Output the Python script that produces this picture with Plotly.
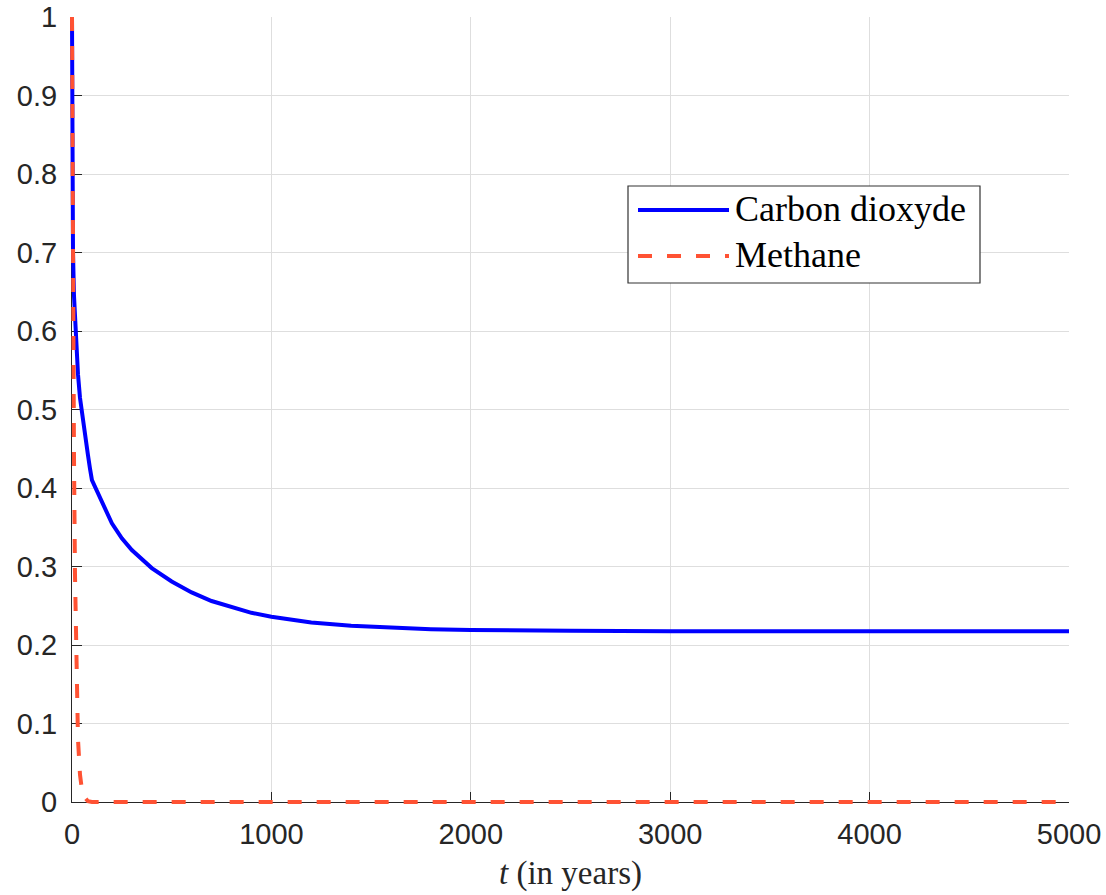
import plotly.graph_objects as go

# ---- data ----
co2_t = [0, 1, 2, 5, 10, 20, 30, 40, 50, 60, 70, 80, 90, 100,
         200, 250, 300, 350, 400, 500, 600, 700, 800, 900, 1000,
         1200, 1400, 1600, 1800, 2000, 2200, 2500, 3000, 3500, 4000, 5000]
co2_v = [1.0, 0.87, 0.80, 0.70, 0.645, 0.585, 0.545, 0.515, 0.495, 0.475, 0.457, 0.442, 0.425, 0.41,
         0.355, 0.336, 0.321, 0.309, 0.298, 0.281, 0.267, 0.256, 0.248, 0.241, 0.236,
         0.2288, 0.2244, 0.2218, 0.2202, 0.2192, 0.2186, 0.218, 0.2176, 0.2175, 0.2175, 0.2175]

ch4_t = [0, 2, 5, 8, 10, 15, 20, 25, 30, 40, 50, 60, 80, 100, 1000, 2000, 3000, 4000, 5000]
ch4_v = [1.0, 0.85, 0.66, 0.52, 0.44, 0.29, 0.19, 0.125, 0.08, 0.035, 0.015, 0.007, 0.001, 0.0,
         0.0, 0.0, 0.0, 0.0, 0.0]

x_ticks = [0, 1000, 2000, 3000, 4000, 5000]
y_ticks = [0, 0.1, 0.2, 0.3, 0.4, 0.5, 0.6, 0.7, 0.8, 0.9, 1]
y_tick_text = ["0", "0.1", "0.2", "0.3", "0.4", "0.5", "0.6", "0.7", "0.8", "0.9", "1"]

series_names = ["Carbon dioxyde", "Methane"]
blue = "#0000ff"
red = "#ff5233"
dash = "14px,15px"

# geometry: visible axes box is inset by PAD px inside a slightly larger
# (invisible) subplot that holds the curves, so lines on the axes are not clipped
W, H = 1106, 895
L, R, T, B = 72, 37, 17, 93
PAD = 4
pw, ph = W - L - R + 2 * PAD, H - T - B + 2 * PAD
dx, dy = PAD / pw, PAD / ph
xr = [0, 5000]
yr = [0, 1]
xpp = (xr[1] - xr[0]) / (W - L - R)
ypp = (yr[1] - yr[0]) / (H - T - B)

fig = go.Figure()
# empty trace so the visible axes subplot is drawn
fig.add_trace(go.Scatter(x=[None], y=[None], mode="lines", showlegend=False, hoverinfo="skip"))
fig.add_trace(go.Scatter(x=co2_t, y=co2_v, mode="lines", name=series_names[0],
                         line=dict(color=blue, width=4), xaxis="x2", yaxis="y2"))
fig.add_trace(go.Scatter(x=ch4_t, y=ch4_v, mode="lines", name=series_names[1],
                         line=dict(color=red, width=4, dash=dash), xaxis="x2", yaxis="y2"))

axis_col = "#262626"
grid_col = "#dedede"
tickfont = dict(family="Liberation Sans, Arial, sans-serif", size=29, color=axis_col)
serif = "Liberation Serif, Times New Roman, serif"

fig.update_layout(
    width=W, height=H,
    margin=dict(l=L - PAD, r=R - PAD, t=T - PAD, b=B - PAD),
    paper_bgcolor="white", plot_bgcolor="rgba(0,0,0,0)",
    showlegend=False,
    xaxis=dict(domain=[dx, 1 - dx], range=xr, tickvals=x_ticks, ticktext=[str(v) for v in x_ticks],
               showgrid=True, gridcolor=grid_col, gridwidth=1,
               showline=True, linecolor=axis_col, linewidth=1.2,
               ticks="inside", ticklen=10, tickcolor=axis_col, tickwidth=1.2,
               tickfont=tickfont, zeroline=False, automargin=False,
               ticklabelstandoff=6, anchor="y",
               title=dict(text="<i>t</i> (in years)", standoff=11,
                          font=dict(family=serif, size=33, color=axis_col))),
    yaxis=dict(domain=[dy, 1 - dy], range=yr, tickvals=y_ticks, ticktext=y_tick_text,
               showgrid=True, gridcolor=grid_col, gridwidth=1,
               showline=True, linecolor=axis_col, linewidth=1.2,
               ticks="inside", ticklen=10, tickcolor=axis_col, tickwidth=1.2,
               tickfont=tickfont, zeroline=False, automargin=False,
               ticklabelstandoff=8, anchor="x"),
    xaxis2=dict(domain=[0, 1], range=[xr[0] - PAD * xpp, xr[1] + PAD * xpp], visible=False,
                anchor="y2", fixedrange=True, automargin=False),
    yaxis2=dict(domain=[0, 1], range=[yr[0] - PAD * ypp, yr[1] + PAD * ypp], visible=False,
                anchor="x2", fixedrange=True, automargin=False),
)

# ---- legend drawn as a MATLAB-style box (paper coords of the inner box) ----
def px_x(p):
    return (p - (L - PAD)) / pw

def px_y(p):
    return 1 - (p - (T - PAD)) / ph

fig.add_shape(type="rect", xref="paper", yref="paper", x0=px_x(628), x1=px_x(980),
              y0=px_y(283), y1=px_y(186),
              line=dict(color="#333333", width=1.2), fillcolor="white", layer="above")
legend_rows = [(210, blue, "solid"), (256, red, dash)]
for (yy, col, dsh), name in zip(legend_rows, series_names):
    fig.add_shape(type="line", xref="paper", yref="paper", x0=px_x(638), x1=px_x(729),
                  y0=px_y(yy), y1=px_y(yy),
                  line=dict(color=col, width=4, dash=dsh), layer="above")
    fig.add_annotation(xref="paper", yref="paper", x=px_x(733), y=px_y(yy - 1), text=name,
                       showarrow=False, xanchor="left", yanchor="middle",
                       font=dict(family=serif, size=36, color="black"))

fig.write_html("out.html", post_script="document.body.style.margin='0';",
               config={"displayModeBar": False})
